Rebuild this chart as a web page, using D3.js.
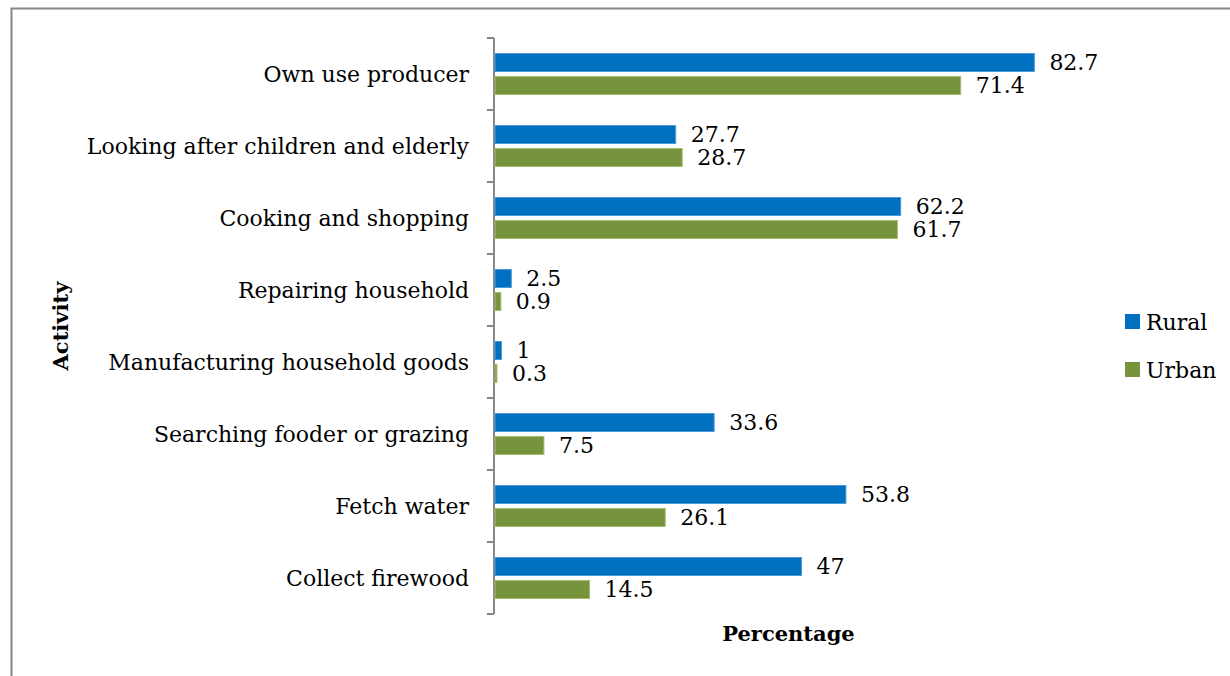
<!DOCTYPE html>
<html>
<head>
<meta charset="utf-8">
<script src="https://cdn.jsdelivr.net/npm/d3@7"></script>
<style>
  body { margin: 0; background: #fff; }
  text { font-family: "DejaVu Serif", "Liberation Serif", serif; fill: #000; }
</style>
</head>
<body>
<div id="chart"></div>
<script>
// categories top to bottom
var categories = ["Own use producer", "Looking after children and elderly", "Cooking and shopping",
    "Repairing household", "Manufacturing household goods", "Searching fooder or grazing",
    "Fetch water", "Collect firewood"];
var series = ["Rural", "Urban"];
var rural = [82.7, 27.7, 62.2, 2.5, 1, 33.6, 53.8, 47];
var urban = [71.4, 28.7, 61.7, 0.9, 0.3, 7.5, 26.1, 14.5];
var colors = ["#0070C0", "#77933C"];
var strokes = ["#4f9ad6", "#a4bc72"];

var width = 1230, height = 676,
    fontSize = 22,
    titleSize = 21;

var svg = d3.select("#chart").append("svg")
    .attr("width", width)
    .attr("height", height);

// outer frame
svg.append("rect")
    .attr("x", 11.5).attr("y", 8.5)
    .attr("width", width + 20).attr("height", height + 20)
    .attr("fill", "none").attr("stroke", "#868686").attr("stroke-width", 2);

var x = d3.scaleLinear().domain([0, 90]).range([495, 1082]);
var y = d3.scaleBand().domain(categories).range([38, 614]);
var ySub = d3.scaleBand().domain(series).range([0, y.bandwidth()])
    .paddingInner(0.217).paddingOuter(0.674);

var ds = categories.map(function(c, i) {
    return { category: c, values: [rural[i], urban[i]] };
});

// axis line with ticks between categories
var gAxis = svg.append("g").attr("transform", "translate(494,0)");
gAxis.append("line")
    .attr("y1", y.range()[0]).attr("y2", y.range()[1])
    .attr("stroke", "#868686").attr("stroke-width", 2);
var bounds = categories.map(function(c) { return y(c); }).concat([y.range()[1]]);
gAxis.selectAll("line.tk").data(bounds).enter().append("line")
    .attr("class", "tk")
    .attr("x1", -7).attr("x2", 0)
    .attr("y1", function(d) { return d; }).attr("y2", function(d) { return d; })
    .attr("stroke", "#868686").attr("stroke-width", 2);

// category labels
svg.selectAll("text.cat").data(categories).enter().append("text")
    .attr("class", "cat")
    .attr("x", 469)
    .attr("y", function(d) { return y(d) + y.bandwidth() / 2; })
    .attr("dy", ".35em")
    .attr("text-anchor", "end")
    .style("font-size", fontSize + "px")
    .text(function(d) { return d; });

var groups = svg.selectAll("g.cat").data(ds).enter().append("g")
    .attr("class", "cat")
    .attr("transform", function(d) { return "translate(0," + y(d.category) + ")"; });

var bars = groups.selectAll("g.bar").data(function(d) {
        return d.values.map(function(v, i) { return { s: series[i], v: v, i: i }; });
    }).enter().append("g").attr("class", "bar");

bars.append("rect")
    .attr("x", x(0))
    .attr("y", function(d) { return ySub(d.s); })
    .attr("width", function(d) { return x(d.v) - x(0); })
    .attr("height", ySub.bandwidth())
    .attr("fill", function(d) { return colors[d.i]; })
    .attr("stroke", function(d) { return strokes[d.i]; })
    .attr("stroke-width", 1);

bars.append("text")
    .attr("x", function(d) { return x(d.v) + 15; })
    .attr("y", function(d) { return ySub(d.s) + ySub.bandwidth() / 2; })
    .attr("dy", ".35em")
    .style("font-size", fontSize + "px")
    .text(function(d) { return d.v; });

// axis titles
svg.append("text")
    .attr("transform", "translate(68,326)rotate(-90)")
    .attr("text-anchor", "middle")
    .style("font-size", titleSize + "px")
    .style("font-weight", "bold")
    .text("Activity");

svg.append("text")
    .attr("x", (x.range()[0] + x.range()[1]) / 2)
    .attr("y", 641)
    .attr("text-anchor", "middle")
    .style("font-size", titleSize + "px")
    .style("font-weight", "bold")
    .text("Percentage");

// legend
var legend = svg.selectAll("g.legend").data(series).enter().append("g")
    .attr("class", "legend")
    .attr("transform", function(d, i) { return "translate(1125," + (314 + i * 48) + ")"; });
legend.append("rect")
    .attr("width", 15).attr("height", 15)
    .attr("fill", function(d, i) { return colors[i]; });
legend.append("text")
    .attr("x", 21).attr("y", 8).attr("dy", ".35em")
    .style("font-size", fontSize + "px")
    .text(function(d) { return d; });
</script>
</body>
</html>
